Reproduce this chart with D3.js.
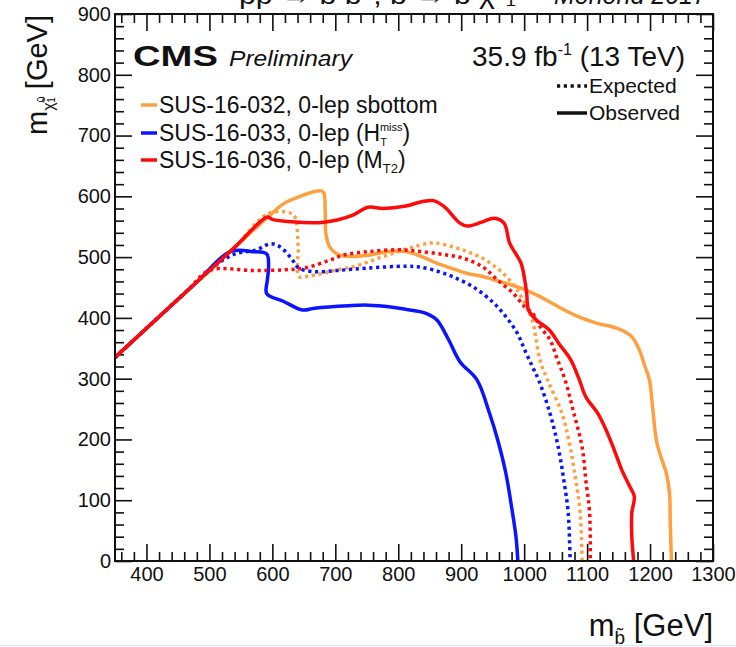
<!DOCTYPE html>
<html>
<head>
<meta charset="utf-8">
<script src="https://cdn.jsdelivr.net/npm/d3@7"></script>
<style>
  body { margin: 0; background: #fff; }
  svg text { font-family: "Liberation Sans", Arial, Helvetica, sans-serif; fill: #111; }
</style>
</head>
<body>
<div id="chart"></div>
<script>
// mass points [m_sbottom, m_neutralino] in GeV
var orangeObs = [[350,335],[420,402],[480,459],[540,516],[594,567],[618,588],[642,599],[667,608],[678,609],[682,605],[684,572],[685,539],[691,517],[703,505],[721,501],[752,503],[782,509],[812,509],[837,501],[861,490],[886,481],[910,473],[934,468],[964,459],[995,449],[1025,435],[1055,418],[1086,402],[1116,391],[1147,383],[1171,369],[1183,347],[1192,320],[1199,298],[1204,254],[1210,199],[1217,172],[1226,144],[1231,111],[1232,67],[1234,0]];
var orangeExp = [[350,335],[420,402],[480,459],[540,516],[594,572],[630,572],[636,566],[641,517],[642,468],[654,468],[679,473],[703,479],[728,484],[752,492],[776,501],[800,509],[825,517],[849,523],[861,523],[886,517],[910,509],[934,498],[958,481],[977,462],[989,446],[1001,424],[1013,396],[1019,364],[1025,331],[1037,298],[1060,243],[1073,188],[1082,133],[1089,79],[1092,0]];
var blueObs = [[350,335],[420,402],[480,459],[533,509],[569,509],[591,505],[594,484],[592,462],[591,440],[618,427],[648,413],[667,416],[721,420],[752,421],[788,418],[812,414],[843,408],[861,397],[880,364],[898,328],[925,298],[945,243],[958,199],[971,144],[980,89],[987,40],[990,0]];
var blueExp = [[350,335],[420,402],[465,445],[505,483],[540,505],[575,512],[597,522],[612,517],[630,498],[642,482],[667,476],[703,478],[752,482],[812,485],[831,484],[855,479],[886,468],[922,449],[952,424],[971,402],[989,375],[1001,347],[1013,320],[1023,298],[1041,243],[1054,188],[1063,133],[1070,79],[1073,0]];
var redObs = [[350,335],[420,402],[480,459],[540,516],[592,566],[600,562],[630,558],[679,557],[703,561],[728,569],[752,582],[776,580],[812,584],[837,591],[856,593],[873,583],[898,556],[910,551],[934,558],[952,564],[968,556],[977,523],[995,490],[1001,462],[1004,440],[1007,413],[1019,397],[1040,380],[1055,358],[1074,331],[1087,300],[1098,270],[1117,243],[1130,216],[1143,183],[1155,150],[1168,122],[1175,106],[1171,79],[1171,40],[1174,0]];
var redExp = [[350,335],[420,402],[465,445],[500,478],[569,478],[618,479],[655,483],[691,495],[715,504],[752,509],[800,512],[837,509],[873,504],[904,498],[934,484],[958,462],[983,440],[1001,418],[1013,408],[1025,386],[1041,364],[1053,331],[1065,298],[1079,243],[1092,188],[1098,133],[1104,79],[1105,0]];

var analyses = ["SUS-16-032, 0-lep sbottom", "SUS-16-033, 0-lep (H", "SUS-16-036, 0-lep (M"];
var xMajor = d3.range(400, 1301, 100);
var yMajor = d3.range(0, 901, 100);

var width = 736, height = 647;
var pLeft = 115, pRight = 713, pTop = 14, pBottom = 561;

var svg = d3.select("#chart").append("svg")
    .attr("width", width)
    .attr("height", height);

var x = d3.scaleLinear().domain([350, 1300]).range([pLeft, pRight]);
var y = d3.scaleLinear().domain([0, 900]).range([pBottom, pTop]);

var xMinor = d3.range(360, 1301, 20).filter(function(d) { return d % 100 != 0; });
var yMinor = d3.range(20, 901, 20).filter(function(d) { return d % 100 != 0; });

// ticks on all four sides, pointing inwards
function ticks(axisFn, scale, vals, size, tr) {
  var g = svg.append("g").attr("transform", tr)
      .call(axisFn(scale).tickValues(vals).tickSize(size).tickFormat(""));
  g.select(".domain").remove();
  g.selectAll("line").attr("stroke", "#111").attr("stroke-width", 1.6);
}
ticks(d3.axisTop, x, xMajor, 17, "translate(0," + pBottom + ")");
ticks(d3.axisTop, x, xMinor, 9, "translate(0," + pBottom + ")");
ticks(d3.axisBottom, x, xMajor, 17, "translate(0," + pTop + ")");
ticks(d3.axisBottom, x, xMinor, 9, "translate(0," + pTop + ")");
ticks(d3.axisRight, y, yMajor, 17, "translate(" + pLeft + ",0)");
ticks(d3.axisRight, y, yMinor, 9, "translate(" + pLeft + ",0)");
ticks(d3.axisLeft, y, yMajor, 17, "translate(" + pRight + ",0)");
ticks(d3.axisLeft, y, yMinor, 9, "translate(" + pRight + ",0)");

// tick labels
var xl = svg.append("g").attr("transform", "translate(0," + pBottom + ")")
    .call(d3.axisBottom(x).tickValues(xMajor).tickSize(0).tickPadding(6).tickFormat(d3.format("d")));
xl.select(".domain").remove();
xl.selectAll("text").style("font-size", "20px").style("font-family", "Liberation Sans, Arial").attr("fill", "#222");

var yl = svg.append("g").attr("transform", "translate(" + pLeft + ",0)")
    .call(d3.axisLeft(y).tickValues(yMajor).tickSize(0).tickPadding(4).tickFormat(d3.format("d")));
yl.select(".domain").remove();
yl.selectAll("text").style("font-size", "20px").style("font-family", "Liberation Sans, Arial").attr("fill", "#222");

// curves
svg.append("clipPath").attr("id", "clip").append("rect")
    .attr("x", pLeft).attr("y", pTop).attr("width", pRight - pLeft).attr("height", pBottom - pTop);

var line = d3.line()
    .curve(d3.curveCatmullRom.alpha(0.5))
    .x(function(d) { return x(d[0]); })
    .y(function(d) { return y(d[1]); });

var curves = [
  { data: orangeExp, color: "#ffa040", dash: true },
  { data: orangeObs, color: "#ffa040", dash: false },
  { data: blueExp, color: "#0a14ff", dash: true },
  { data: blueObs, color: "#0a14ff", dash: false },
  { data: redExp, color: "#ff0a0a", dash: true },
  { data: redObs, color: "#ff0a0a", dash: false }
];
var cg = svg.append("g").attr("clip-path", "url(#clip)");
curves.forEach(function(c) {
  cg.append("path")
    .attr("d", line(c.data))
    .attr("fill", "none")
    .attr("stroke", c.color)
    .attr("stroke-width", 3.5)
    .attr("stroke-linejoin", "round")
    .attr("stroke-dasharray", c.dash ? "3.2 3.6" : null);
});

// frame
svg.append("rect")
    .attr("x", pLeft).attr("y", pTop)
    .attr("width", pRight - pLeft).attr("height", pBottom - pTop)
    .attr("fill", "none").attr("stroke", "#111").attr("stroke-width", 2);

// header (cut off at the top edge, as in the original)
var head = svg.append("text").attr("x", 239).attr("y", 4).style("font-size", "25px")
    .attr("textLength", 277).attr("lengthAdjust", "spacingAndGlyphs");
head.text("pp \u2192 b\u0303 b\u0303*, b\u0303 \u2192 b \u03c7\u0303\u2070\u2081");
svg.append("text").attr("x", 554).attr("y", 4).style("font-size", "25px")
    .style("font-style", "italic").text("Moriond 2017");

svg.append("text").attr("x", 133).attr("y", 66)
    .style("font-size", "29px").style("font-weight", "bold")
    .attr("textLength", 85).attr("lengthAdjust", "spacingAndGlyphs")
    .text("CMS");
svg.append("text").attr("x", 229).attr("y", 66)
    .style("font-size", "22px").style("font-style", "italic")
    .attr("textLength", 123).attr("lengthAdjust", "spacingAndGlyphs")
    .text("Preliminary");

var lumi = svg.append("text").attr("x", 685).attr("y", 66).attr("text-anchor", "end")
    .style("font-size", "28px");
lumi.append("tspan").text("35.9 fb");
lumi.append("tspan").attr("dy", -11).style("font-size", "16px").text("-1");
lumi.append("tspan").attr("dy", 11).text(" (13 TeV)");

// legend
var legColors = ["#ffa040", "#0a14ff", "#ff0a0a"];
var legY = [105, 133, 160];
analyses.forEach(function(name, i) {
  svg.append("line").attr("x1", 141).attr("x2", 157).attr("y1", legY[i]).attr("y2", legY[i])
    .attr("stroke", legColors[i]).attr("stroke-width", 3.5);
  var t = svg.append("text").attr("x", 159).attr("y", legY[i] + 8).style("font-size", "23px");
  t.append("tspan").text(name);
  if (i == 1) {
    t.append("tspan").attr("dy", 5).style("font-size", "11px").text("T");
    t.append("tspan").attr("dx", -7).attr("dy", -15).style("font-size", "11px").text("miss");
    t.append("tspan").attr("dy", 10).text(")");
  }
  if (i == 2) {
    t.append("tspan").attr("dy", 5).style("font-size", "13px").text("T2");
    t.append("tspan").attr("dy", -5).text(")");
  }
});

var styles = [["Expected", true, 86], ["Observed", false, 113]];
styles.forEach(function(s) {
  svg.append("line").attr("x1", 557).attr("x2", 587).attr("y1", s[2]).attr("y2", s[2])
    .attr("stroke", "#111").attr("stroke-width", 3.5)
    .attr("stroke-dasharray", s[1] ? "3.2 3.6" : null);
  svg.append("text").attr("x", 589).attr("y", s[2] + 7).style("font-size", "21px").text(s[0]);
});

// axis titles
var xt = svg.append("text").attr("x", 713).attr("y", 636).attr("text-anchor", "end")
    .style("font-size", "31px");
xt.append("tspan").text("m");
xt.append("tspan").attr("dy", 8).style("font-size", "19px").text("b\u0303");
xt.append("tspan").attr("dy", -8).text(" [GeV]");

var yt = svg.append("text").attr("transform", "translate(47,15) rotate(-90)")
    .attr("text-anchor", "end").style("font-size", "29px");
yt.append("tspan").text("m");
yt.append("tspan").attr("dy", 7).style("font-size", "16px").text("\u03c7\u0303");
yt.append("tspan").attr("dy", -9).style("font-size", "10px").text("0");
yt.append("tspan").attr("dx", -6).attr("dy", 10).style("font-size", "10px").text("1");
yt.append("tspan").attr("dy", -8).text(" [GeV]");

// thin light border at the bottom of the screenshot
svg.append("line").attr("x1", 0).attr("x2", width).attr("y1", 645.5).attr("y2", 645.5)
    .attr("stroke", "#dcebf8").attr("stroke-width", 1);
</script>
</body>
</html>
